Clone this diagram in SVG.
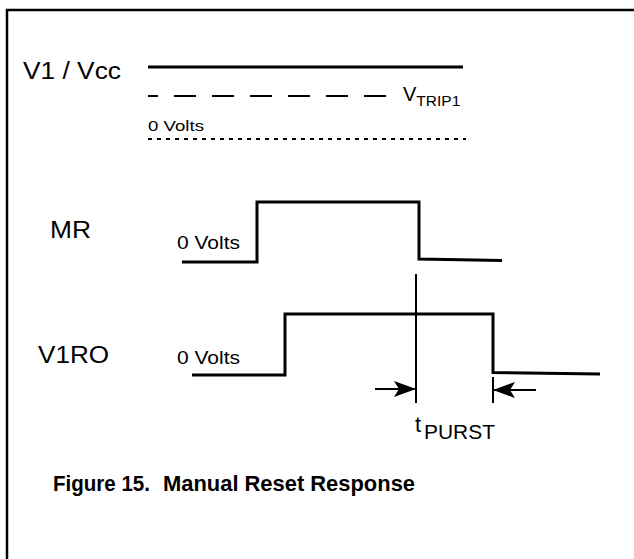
<svg xmlns="http://www.w3.org/2000/svg" width="634" height="559" viewBox="0 0 634 559">
<style>
.t{font-family:"Liberation Sans",Arial,sans-serif;fill:#000}
.lbl{font-size:23px}
.sig{fill:none;stroke:#000;stroke-width:3;stroke-linejoin:miter}
.thin{fill:none;stroke:#000;stroke-width:2}
</style>
<defs>
<marker id="ah" viewBox="0 0 22 16" refX="22" refY="8" markerWidth="22" markerHeight="16" markerUnits="userSpaceOnUse" orient="auto">
<path d="M0,0 L22,8 L0,16 L5,8 Z" fill="#000"/>
</marker>
</defs>
<rect width="634" height="559" fill="#fff"/>
<path d="M7,559 V10 H634" fill="none" stroke="#000" stroke-width="2.5"/>

<g id="v1vcc">
<text class="t lbl" x="23" y="79" textLength="98" lengthAdjust="spacingAndGlyphs">V1 / Vcc</text>
<line x1="148" y1="67" x2="463" y2="67" stroke="#000" stroke-width="3"/>
<line x1="148" y1="96" x2="393" y2="96" stroke="#000" stroke-width="2" stroke-dasharray="22 16" stroke-dashoffset="12"/>
<text class="t" x="403" y="101" font-size="20">V<tspan font-size="15.5" dy="5">TRIP1</tspan></text>
<text class="t" x="148" y="131" font-size="15.5" textLength="56" lengthAdjust="spacingAndGlyphs">0 Volts</text>
<line x1="148" y1="139" x2="466" y2="139" stroke="#000" stroke-width="2" stroke-dasharray="4 5"/>
</g>

<g id="mr">
<text class="t lbl" x="50" y="238" textLength="41" lengthAdjust="spacingAndGlyphs">MR</text>
<text class="t" x="177" y="249" font-size="18" textLength="63" lengthAdjust="spacingAndGlyphs">0 Volts</text>
<path class="sig" d="M182,262 H257 V202 H419 V259 L502,260.5"/>
</g>

<g id="v1ro">
<text class="t lbl" x="38" y="363" textLength="71" lengthAdjust="spacingAndGlyphs">V1RO</text>
<text class="t" x="177" y="364" font-size="18" textLength="63" lengthAdjust="spacingAndGlyphs">0 Volts</text>
<path class="sig" d="M192,375 H285 V314 H493 V372.5 L600,374"/>
</g>

<g id="connectors">
<line class="thin" x1="416" y1="274" x2="416" y2="403"/>
<line class="thin" x1="493" y1="377" x2="493" y2="403"/>
<line class="thin" x1="375" y1="389" x2="416" y2="389" marker-end="url(#ah)"/>
<line class="thin" x1="536" y1="390" x2="493" y2="390" marker-end="url(#ah)"/>
</g>

<g id="tpurst">
<text class="t" x="415" y="432" font-size="22">t<tspan x="424" font-size="19.5" dy="7" textLength="71" lengthAdjust="spacingAndGlyphs">PURST</tspan></text>
</g>

<text class="t" y="491" font-size="22" font-weight="bold"><tspan x="53" textLength="97" lengthAdjust="spacingAndGlyphs">Figure 15.</tspan><tspan x="163" textLength="252" lengthAdjust="spacingAndGlyphs">Manual Reset Response</tspan></text>
</svg>
